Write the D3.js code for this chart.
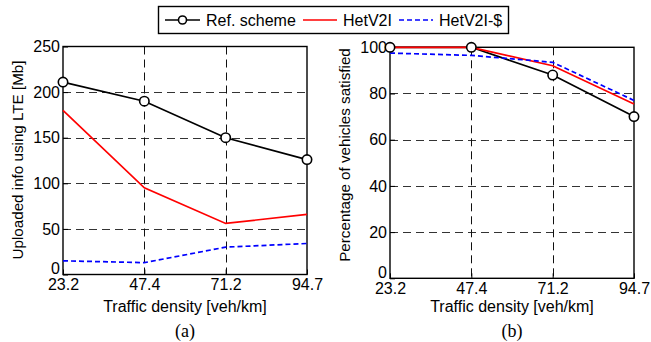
<!DOCTYPE html>
<html>
<head>
<meta charset="utf-8">
<script src="https://cdn.jsdelivr.net/npm/d3@7"></script>
<style>
  body { margin: 0; background: #fff; }
  text { font-family: "Liberation Sans", Arial, sans-serif; }
</style>
</head>
<body>
<div id="svgContainer"></div>
<script>
var width = 651;
var height = 342;

// data
var densities = ["23.2", "47.4", "71.2", "94.7"];
var seriesNames = ["Ref. scheme", "HetV2I", "HetV2I-$"];

var uploadRef = [211, 190, 150, 126];
var uploadHet = [180, 95, 56, 66];
var uploadHetS = [15, 13, 30, 34];

var satRef = [100, 100, 88, 70];
var satHet = [100, 100, 92, 75.5];
var satHetS = [97.5, 96.5, 93.5, 77];

var uploadTicks = [0, 50, 100, 150, 200, 250];
var satTicks = [0, 20, 40, 60, 80, 100];

var styles = [
  {color: "#000", dash: null, marker: true},
  {color: "#ff0000", dash: null, marker: false},
  {color: "#0000ff", dash: "5,3", marker: false}
];

var svg = d3.select("#svgContainer").append("svg")
  .attr("width", width).attr("height", height);

function drawPanel(opt) {
  var x = d3.scalePoint().domain(densities).range([opt.left, opt.right]);
  var y = d3.scaleLinear().domain([0, opt.max]).range([opt.bottom, opt.top]);
  var g = svg.append("g");

  // grid
  g.selectAll(".hgrid").data(opt.ticks.slice(1, -1)).join("line")
    .attr("x1", opt.left).attr("x2", opt.right)
    .attr("y1", d => Math.round(y(d)) + 0.5).attr("y2", d => Math.round(y(d)) + 0.5)
    .attr("stroke", "#333").attr("stroke-dasharray", "8,5").attr("stroke-width", 1);
  g.selectAll(".vgrid").data(densities.slice(1, -1)).join("line")
    .attr("x1", d => Math.round(x(d)) + 0.5).attr("x2", d => Math.round(x(d)) + 0.5)
    .attr("y1", opt.top).attr("y2", opt.bottom)
    .attr("stroke", "#111").attr("stroke-dasharray", "8,5").attr("stroke-width", 1);

  // axes
  var ax = g.append("g").attr("transform", "translate(0," + opt.bottom + ")")
    .call(d3.axisBottom(x).tickSizeInner(-5).tickSizeOuter(0).tickPadding(6));
  var ay = g.append("g").attr("transform", "translate(" + opt.left + ",0)")
    .call(d3.axisLeft(y).tickValues(opt.ticks).tickSizeInner(-5).tickSizeOuter(0).tickPadding(3));
  [ax, ay].forEach(function(a) {
    a.select(".domain").remove();
    a.selectAll("line").attr("stroke", "#000");
    a.selectAll("text").attr("font-size", 16).attr("fill", "#000")
      .attr("font-family", "Liberation Sans, Arial, sans-serif");
  });
  ay.selectAll(".tick").filter(d => d === 0).select("text").attr("dy", "-0.05em");
  ax.selectAll("text").attr("dy", "0.6em");

  g.append("rect")
    .attr("x", opt.left).attr("y", opt.top)
    .attr("width", opt.right - opt.left).attr("height", opt.bottom - opt.top)
    .attr("fill", "none").attr("stroke", "#000").attr("stroke-width", 1.4);

  var line = d3.line().x((d, i) => x(densities[i])).y(d => y(d));
  opt.series.forEach(function(s, k) {
    var st = styles[k];
    g.append("path").datum(s).attr("d", line)
      .attr("fill", "none").attr("stroke", st.color).attr("stroke-width", 1.7)
      .attr("stroke-dasharray", st.dash);
  });
  // markers on top
  g.selectAll(".mk").data(opt.series[0]).join("circle")
    .attr("cx", (d, i) => x(densities[i])).attr("cy", d => y(d)).attr("r", 4.7)
    .attr("fill", "#fff").attr("stroke", "#000").attr("stroke-width", 1.6);

  g.append("text").attr("x", (opt.left + opt.right) / 2).attr("y", 312)
    .attr("text-anchor", "middle").attr("font-size", 16).text("Traffic density [veh/km]");
  g.append("text").attr("x", (opt.left + opt.right) / 2).attr("y", 337)
    .attr("text-anchor", "middle").attr("font-size", 18)
    .style("font-family", "Liberation Serif, Times New Roman, serif").text(opt.tag);
  g.append("text")
    .attr("transform", "translate(" + opt.ylabX + "," + opt.ylabY + ") rotate(-90)")
    .attr("text-anchor", "middle").attr("font-size", 15.2).text(opt.ylabel);
}

drawPanel({left: 63, right: 307, top: 46.5, bottom: 274.5, max: 250, ticks: uploadTicks,
  series: [uploadRef, uploadHet, uploadHetS], tag: "(a)",
  ylabel: "Uploaded info using LTE [Mb]", ylabX: 23, ylabY: 160});
drawPanel({left: 390, right: 634, top: 47.3, bottom: 278.3, max: 100, ticks: satTicks,
  series: [satRef, satHet, satHetS], tag: "(b)",
  ylabel: "Percentage of vehicles satisfied", ylabX: 350, ylabY: 155});

// legend
var lg = svg.append("g");
lg.append("rect").attr("x", 158.5).attr("y", 6.5).attr("width", 350).attr("height", 27)
  .attr("fill", "#fff").attr("stroke", "#000").attr("stroke-width", 1.4);
var legendPos = [{x1: 165, x2: 200, tx: 206}, {x1: 303, x2: 337, tx: 343}, {x1: 399, x2: 433, tx: 439}];
seriesNames.forEach(function(name, k) {
  var st = styles[k], p = legendPos[k];
  lg.append("line").attr("x1", p.x1).attr("x2", p.x2).attr("y1", 20).attr("y2", 20)
    .attr("stroke", st.color).attr("stroke-width", 1.7).attr("stroke-dasharray", st.dash);
  if (st.marker) {
    lg.append("circle").attr("cx", (p.x1 + p.x2) / 2).attr("cy", 20).attr("r", 4)
      .attr("fill", "#fff").attr("stroke", "#000").attr("stroke-width", 1.6);
  }
  lg.append("text").attr("x", p.tx).attr("y", 26).attr("font-size", 16).text(name);
});
</script>
</body>
</html>
